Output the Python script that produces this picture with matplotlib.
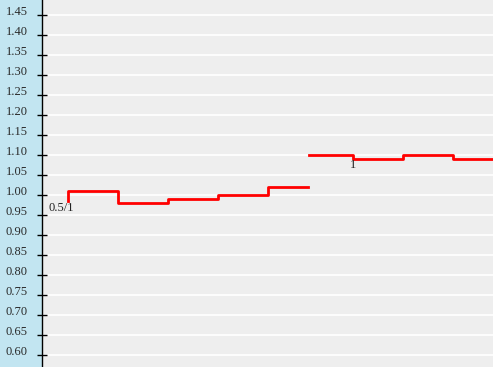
import numpy as np
import matplotlib
matplotlib.use('Agg')
import matplotlib.pyplot as plt

# step values, x in periods
x1 = [0, 1, 2, 3, 4, 4.8]
y1 = [1.01, 0.98, 0.99, 1.00, 1.02, 1.02]
start_y1 = 0.985
x2 = [4.82, 5.7, 6.7, 7.7, 8.5]
y2 = [1.10, 1.09, 1.10, 1.09, 1.09]
yticks = np.round(np.arange(0.60, 1.451, 0.05), 2)
marks = [(-0.14, 0.982, '0.5/1'), (5.7, 1.09, '1')]

plt.rcParams['font.family'] = ['Liberation Serif', 'DejaVu Serif']

fig = plt.figure(figsize=(4.93, 3.67), dpi=100, facecolor='#c2e5f1')
ax = fig.add_axes([42 / 493, 0, 1 - 42 / 493, 1])
ax.set_facecolor('#eeeeee')

ax.set_xlim(-0.52, 8.5)
ax.set_ylim(0.57, 1.4875)

for v in yticks:
    ax.axhline(v, color='white', lw=1.2, zorder=1)

ax.step([x1[0]] + x1, [start_y1] + y1, where='post', color='#ff0000', lw=2, zorder=3)
ax.step(x2, y2, where='post', color='#ff0000', lw=2, zorder=3)

for mx, my, txt in marks:
    ax.text(mx, my, txt, fontsize=9, color='#222222', ha='center', va='top', zorder=4)

ax.set_yticks(yticks)
ax.set_yticklabels(['%.2f' % v for v in yticks])
ax.tick_params(axis='y', direction='inout', length=6.5, width=1, pad=7,
               labelsize=9, labelcolor='#2a2a2a')
for lab in ax.get_yticklabels():
    lab.set_va('baseline')
ax.set_xticks([])
for s in ['top', 'right', 'bottom']:
    ax.spines[s].set_visible(False)
ax.spines['left'].set_linewidth(1)

plt.savefig('out.png', dpi=100, facecolor=fig.get_facecolor())
